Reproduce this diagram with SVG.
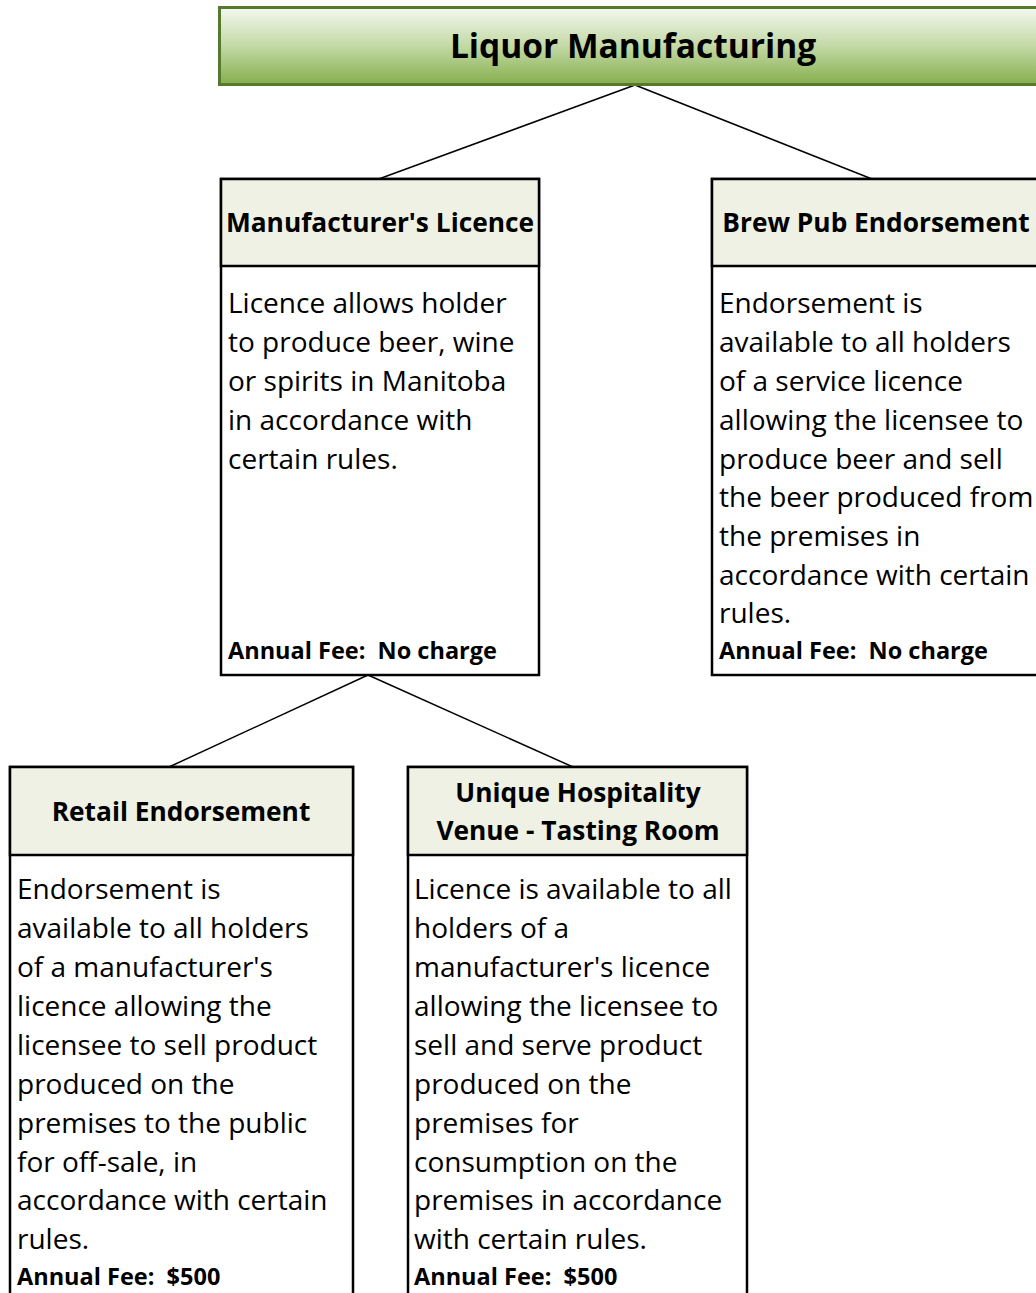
<svg xmlns="http://www.w3.org/2000/svg" width="1036" height="1293" viewBox="0 0 1036 1293">
<defs>
<linearGradient id="g" x1="0" y1="0" x2="0" y2="1">
<stop offset="0" stop-color="#f4f8ef"/>
<stop offset="0.5" stop-color="#c3d9a6"/>
<stop offset="1" stop-color="#86ae4c"/>
</linearGradient>
<style>
.box{fill:#ffffff;stroke:#000;stroke-width:2.5}
.hdr{fill:#eef1e3;stroke:#000;stroke-width:2.5}
.ht{font-family:"Open Sans","Noto Sans",sans-serif;font-weight:bold;font-size:26.3px;fill:#000;text-anchor:middle}
.bt{font-family:"Open Sans","Noto Sans",sans-serif;font-size:28px;fill:#000}
.ft{font-family:"Open Sans","Noto Sans",sans-serif;font-weight:bold;font-size:23.5px;fill:#000;white-space:pre}
.con{stroke:#000;stroke-width:1.5;fill:none}
</style>
</defs>
<rect width="1036" height="1293" fill="#ffffff"/>
<g id="connectors">
<line class="con" x1="635" y1="85" x2="376" y2="180"/>
<line class="con" x1="635" y1="85" x2="872" y2="179"/>
<line class="con" x1="368" y1="675" x2="169" y2="767"/>
<line class="con" x1="368" y1="675" x2="573" y2="767"/>
</g>
<g id="title">
<rect x="219.5" y="7.5" width="830" height="77" fill="url(#g)" stroke="#557a2e" stroke-width="3"/>
<text x="633" y="58" font-family="'Open Sans','Noto Sans',sans-serif" font-weight="bold" font-size="33.5" text-anchor="middle" fill="#000">Liquor Manufacturing</text>
</g>
<g id="manufacturer">
<rect class="box" x="221" y="179" width="318" height="496"/>
<rect class="hdr" x="221" y="179" width="318" height="87"/>
<text class="ht" x="380" y="232">Manufacturer's Licence</text>
<text class="bt" x="228" y="313">Licence allows holder</text>
<text class="bt" x="228" y="352">to produce beer, wine</text>
<text class="bt" x="228" y="391">or spirits in Manitoba</text>
<text class="bt" x="228" y="430">in accordance with</text>
<text class="bt" x="228" y="469">certain rules.</text>
<text class="ft" x="228" y="659" xml:space="preserve">Annual Fee:  No charge</text>
</g>
<g id="brewpub">
<rect class="box" x="712" y="179" width="340" height="496"/>
<rect class="hdr" x="712" y="179" width="340" height="87"/>
<text class="ht" x="876" y="232">Brew Pub Endorsement</text>
<text class="bt" x="719" y="313">Endorsement is</text>
<text class="bt" x="719" y="352">available to all holders</text>
<text class="bt" x="719" y="391">of a service licence</text>
<text class="bt" x="719" y="430">allowing the licensee to</text>
<text class="bt" x="719" y="469">produce beer and sell</text>
<text class="bt" x="719" y="507">the beer produced from</text>
<text class="bt" x="719" y="546">the premises in</text>
<text class="bt" x="719" y="585">accordance with certain</text>
<text class="bt" x="719" y="623">rules.</text>
<text class="ft" x="719" y="659" xml:space="preserve">Annual Fee:  No charge</text>
</g>
<g id="retail">
<rect class="box" x="10" y="767" width="343" height="540"/>
<rect class="hdr" x="10" y="767" width="343" height="88"/>
<text class="ht" x="181" y="821">Retail Endorsement</text>
<text class="bt" x="17" y="899">Endorsement is</text>
<text class="bt" x="17" y="938">available to all holders</text>
<text class="bt" x="17" y="977">of a manufacturer's</text>
<text class="bt" x="17" y="1016">licence allowing the</text>
<text class="bt" x="17" y="1055">licensee to sell product</text>
<text class="bt" x="17" y="1094">produced on the</text>
<text class="bt" x="17" y="1133">premises to the public</text>
<text class="bt" x="17" y="1172">for off-sale, in</text>
<text class="bt" x="17" y="1210">accordance with certain</text>
<text class="bt" x="17" y="1249">rules.</text>
<text class="ft" x="17" y="1285" xml:space="preserve">Annual Fee:  $500</text>
</g>
<g id="tasting">
<rect class="box" x="408" y="767" width="339" height="540"/>
<rect class="hdr" x="408" y="767" width="339" height="88"/>
<text class="ht" x="578" y="802">Unique Hospitality</text>
<text class="ht" x="578" y="840">Venue - Tasting Room</text>
<text class="bt" x="414" y="899">Licence is available to all</text>
<text class="bt" x="414" y="938">holders of a</text>
<text class="bt" x="414" y="977">manufacturer's licence</text>
<text class="bt" x="414" y="1016">allowing the licensee to</text>
<text class="bt" x="414" y="1055">sell and serve product</text>
<text class="bt" x="414" y="1094">produced on the</text>
<text class="bt" x="414" y="1133">premises for</text>
<text class="bt" x="414" y="1172">consumption on the</text>
<text class="bt" x="414" y="1210">premises in accordance</text>
<text class="bt" x="414" y="1249">with certain rules.</text>
<text class="ft" x="414" y="1285" xml:space="preserve">Annual Fee:  $500</text>
</g>
</svg>
